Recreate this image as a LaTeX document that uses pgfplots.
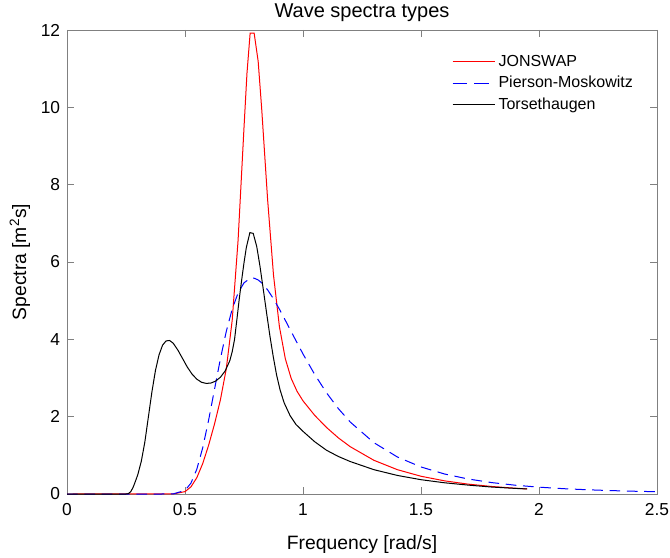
\documentclass[12pt,border=0pt]{standalone}
\usepackage{pgfplots}
\pgfplotsset{compat=1.18}
\usepackage{fontspec}
\setmainfont{Liberation Sans}
\definecolor{axgray}{RGB}{128,128,128}
\begin{document}
\begin{tikzpicture}
\begin{axis}[
  scale only axis, width=442.5pt, height=348pt,
  xmin=0, xmax=2.5, ymin=0, ymax=12,
  xtick={0,0.5,1,1.5,2,2.5}, ytick={0,2,4,6,8,10,12},
  /pgf/number format/assume math mode=true,
  tick align=inside, major tick length=5pt,
  axis line style={axgray, line width=0.6pt},
  tick style={axgray, line width=0.6pt},
  tick label style={font=\fontsize{13}{15}\selectfont},
  xticklabel style={yshift=-3pt},
  yticklabel style={xshift=-1pt},
  xlabel={Frequency [rad/s]},
  ylabel={Spectra [m\textsuperscript{2}s]},
  title={Wave spectra types},
  label style={font=\fontsize{14.5}{17}\selectfont},
  xlabel style={at={(axis description cs:0.5,0)}, anchor=center, yshift=-38pt},
  ylabel style={at={(axis description cs:-0.0797,0.5)}, anchor=center},
  title style={font=\fontsize{15}{18}\selectfont, at={(axis description cs:0.5,1)}, anchor=south, yshift=-4pt},
  legend cell align=left,
  legend style={draw=none, fill=none, at={(rel axis cs:0.6525,0.952)}, anchor=north west,
    row sep=1.5pt, inner sep=0pt},
]
\addplot[color=red, line width=0.75pt,
  legend image code/.code={\csname pgfsys@color@rgb@stroke\endcsname{1}{0}{0}\draw[line width=0.75pt] (0pt,0pt) -- (32pt,0pt);}] coordinates {
(0,0) (0.45,0.002) (0.5,0.061) (0.525,0.183) (0.55,0.421) (0.575,0.786)
(0.6,1.260) (0.625,1.809) (0.65,2.434) (0.675,3.241) (0.7,4.493)
(0.725,6.569) (0.75,9.474) (0.7625,10.873) (0.776,11.92) (0.793,11.92)
(0.81,11.193) (0.825,9.959) (0.85,7.619) (0.875,5.662) (0.9,4.330)
(0.925,3.500) (0.95,2.988) (0.975,2.654) (1.0,2.409) (1.05,2.031)
(1.1,1.719) (1.15,1.451) (1.2,1.224) (1.3,0.873) (1.4,0.629) (1.5,0.459)
(1.6,0.340) (1.7,0.255) (1.8,0.194) (1.9,0.149) (1.95,0.132)
};
\addlegendentry{JONSWAP}
\addplot[color=blue, line width=0.75pt, dash pattern=on 8pt off 5pt,
  legend image code/.code={\csname pgfsys@color@rgb@stroke\endcsname{0}{0}{1}\draw[line width=0.75pt, dash pattern=on 11pt off 5pt] (0pt,0pt) -- (32pt,0pt);}] coordinates {
(0,0) (0.40,0) (0.45,0.003) (0.5,0.092) (0.525,0.279) (0.55,0.640)
(0.575,1.195) (0.6,1.909) (0.625,2.705) (0.65,3.496) (0.675,4.206)
(0.7,4.782) (0.725,5.201) (0.75,5.461) (0.775,5.576) (0.7854,5.586)
(0.795,5.578) (0.81,5.535) (0.825,5.460) (0.85,5.280) (0.875,5.047)
(0.9,4.780) (0.925,4.493) (0.95,4.199) (1.0,3.621) (1.05,3.087)
(1.1,2.614) (1.15,2.207) (1.2,1.862) (1.3,1.329) (1.4,0.957) (1.5,0.699)
(1.6,0.517) (1.7,0.388) (1.8,0.295) (1.9,0.227) (2.0,0.177) (2.1,0.139)
(2.2,0.111) (2.3,0.089) (2.4,0.072) (2.5,0.059)
};
\addlegendentry{Pierson-Moskowitz}
\addplot[color=black, line width=0.75pt,
  legend image code/.code={\csname pgfsys@color@rgb@stroke\endcsname{0}{0}{0}\draw[line width=0.75pt] (0pt,0pt) -- (32pt,0pt);}] coordinates {
(0,0) (0.25,0) (0.26,0.01) (0.27,0.06) (0.28,0.17) (0.29,0.33) (0.30,0.50)
(0.315,0.85) (0.33,1.35) (0.345,2.0) (0.36,2.65) (0.375,3.2) (0.39,3.6)
(0.405,3.85) (0.42,3.96) (0.435,3.97) (0.45,3.90) (0.47,3.72) (0.49,3.50)
(0.51,3.28) (0.53,3.10) (0.55,2.97) (0.57,2.89) (0.59,2.86) (0.61,2.87)
(0.63,2.92) (0.65,3.02) (0.67,3.18) (0.69,3.45) (0.70,3.68) (0.71,4.0)
(0.72,4.52) (0.73,5.05) (0.74,5.53) (0.75,5.98) (0.76,6.38) (0.775,6.76)
(0.789,6.74) (0.804,6.40) (0.818,5.88) (0.832,5.28) (0.846,4.67)
(0.86,4.08) (0.874,3.55) (0.888,3.08) (0.903,2.69) (0.92,2.36)
(0.945,2.03) (0.97,1.80) (1.0,1.62) (1.05,1.35) (1.1,1.13) (1.15,0.97)
(1.2,0.84) (1.3,0.63) (1.4,0.48) (1.5,0.37) (1.6,0.29) (1.7,0.23)
(1.8,0.18) (1.9,0.145) (1.95,0.13)
};
\addlegendentry{Torsethaugen}
\coordinate (SW) at (rel axis cs:0,0);
\coordinate (NE) at (rel axis cs:1,1);
\end{axis}
\pgfresetboundingbox
\path[use as bounding box] ([xshift=-50.25pt,yshift=-47.25pt]SW) rectangle ([xshift=9.75pt,yshift=22.5pt]NE);
\end{tikzpicture}
\end{document}
